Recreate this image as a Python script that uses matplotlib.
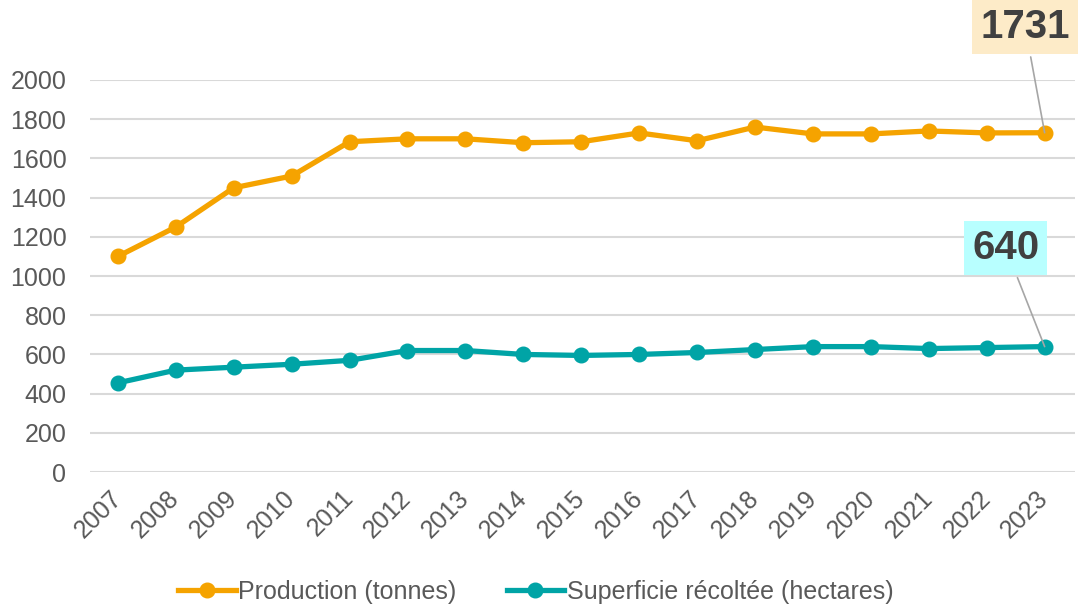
import matplotlib
matplotlib.use("Agg")
from matplotlib import pyplot as plt

plt.rcParams['font.family'] = ['Liberation Sans', 'DejaVu Sans']

years = list(range(2007, 2024))
production = [1100, 1250, 1450, 1510, 1685, 1700, 1700, 1680, 1685, 1730, 1690, 1760, 1725, 1725, 1740, 1730, 1731]
superficie = [455, 520, 535, 550, 570, 620, 620, 600, 595, 600, 610, 625, 640, 640, 630, 635, 640]
yticks = list(range(0, 2001, 200))

orange = '#F5A300'
teal = '#00A4A6'
grey_txt = '#595959'

fig = plt.figure(figsize=(10.78, 6.06), dpi=100)
ax = fig.add_axes([0.0835, 0.221, 0.9135, 0.647])

ax.plot(years, production, color=orange, lw=3.8, marker='o', ms=10.5, label='Production (tonnes)', clip_on=False, zorder=3)
ax.plot(years, superficie, color=teal, lw=3.8, marker='o', ms=10.5, label='Superficie récoltée (hectares)', clip_on=False, zorder=3)

ax.set_xlim(2006.52, 2023.52)
ax.set_ylim(0, 2000)
ax.set_yticks(yticks)
ax.set_xticks(years)
ax.set_xticklabels([str(y) for y in years], rotation=45, ha='right', va='center', rotation_mode='anchor')
ax.tick_params(axis='both', length=0, labelsize=18, colors=grey_txt)
ax.tick_params(axis='y', pad=17)
ax.tick_params(axis='x', pad=16)
ax.grid(axis='y', color='#D9D9D9', lw=1.5)
ax.set_axisbelow(True)
for s in ax.spines.values():
    s.set_visible(False)

ax.annotate(str(production[-1]), xy=(years[-1], production[-1]), xytext=(-14, 76),
            textcoords='offset points', ha='center', va='center',
            fontsize=29, fontweight='bold', color='#404040',
            bbox=dict(boxstyle='square,pad=0.2', fc='#FDEBC8', ec='none'),
            arrowprops=dict(arrowstyle='-', color='#A6A6A6', lw=1.2, shrinkB=0),
            annotation_clip=False, zorder=5)
ax.annotate(str(superficie[-1]), xy=(years[-1], superficie[-1]), xytext=(-28, 71),
            textcoords='offset points', ha='center', va='center',
            fontsize=29, fontweight='bold', color='#404040',
            bbox=dict(boxstyle='square,pad=0.2', fc='#B8FFFF', ec='none'),
            arrowprops=dict(arrowstyle='-', color='#A6A6A6', lw=1.2, shrinkB=0),
            annotation_clip=False, zorder=5)

leg = fig.legend(loc='center', bbox_to_anchor=(0.497, 0.023), ncol=2, frameon=False,
                 fontsize=18, handlelength=2.3, handletextpad=0.1, columnspacing=2.0)
for t in leg.get_texts():
    t.set_color(grey_txt)

fig.savefig('out.png', dpi=100)
